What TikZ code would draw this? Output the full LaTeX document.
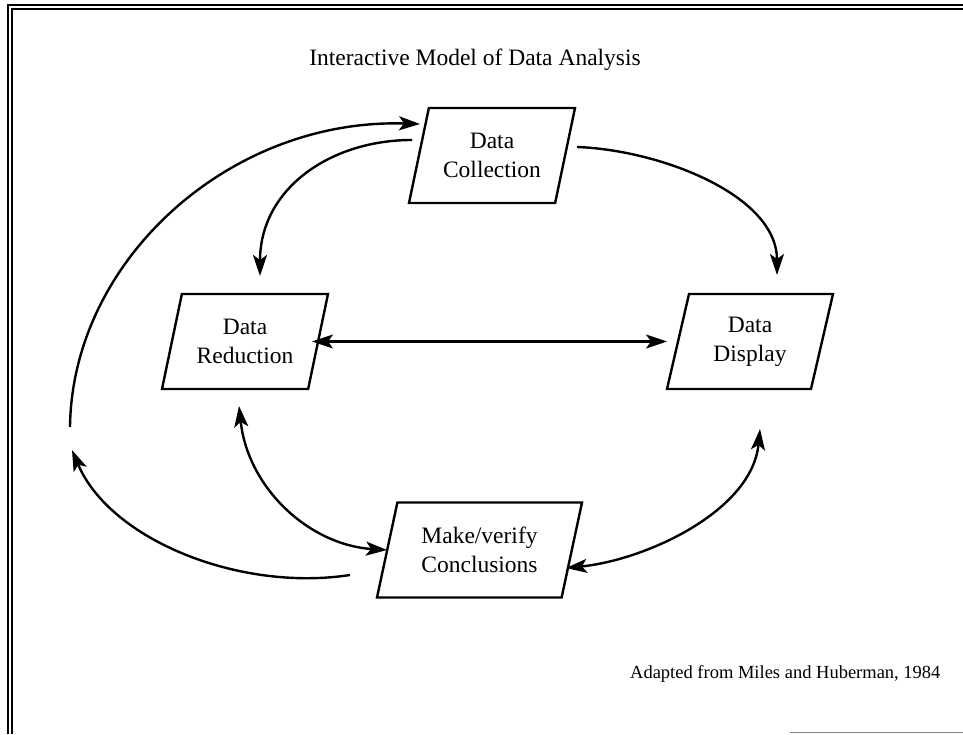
\documentclass[tikz,border=0pt]{standalone}
\usepackage{fontspec}
\setmainfont{Liberation Serif}
\usepackage{tikz}
\usetikzlibrary{positioning}
\usetikzlibrary{arrows.meta}
\usetikzlibrary{shapes.geometric}

\begin{document}
\begin{tikzpicture}[
            x = 1pt, y = 1pt, % one unit per pixel of the scan
            > = {Stealth[length=21pt, width=14pt, inset=5pt]}, % arrow head style
            line width = 2.4pt, % line style
            node distance = 505pt % distance between reduction and display
        ]

        \tikzstyle{box}=[
            draw,
            trapezium,
            trapezium left angle = 66,
            trapezium right angle = 114,
            trapezium stretches body,
            minimum width = 166pt,
            minimum height = 95pt,
            inner sep = 0pt,
            align = center,
            font = \fontsize{23.5}{29}\selectfont
        ]

        \useasboundingbox (0,0) rectangle (963,734);

	% FRAME OF THE SLIDE
        \draw[line width = 1.4pt] (963,729) -- (8,729) -- (8,0);
        \draw[line width = 1.4pt] (963,725) -- (12,725) -- (12,0);
        \draw[line width = 1pt, gray] (790,1.5) -- (963,1.5);

	% TITLE AND SOURCE
        \node (title) [anchor = base, font = \fontsize{23.5}{28}\selectfont] at (475,668) {Interactive Model of Data Analysis};
        \node (source) [anchor = base east, font = \fontsize{18.5}{22}\selectfont] at (945,56) {Adapted from Miles and Huberman, 1984};

	% THE FOUR STAGES
        \node[box] (col) at (492,578.5) {Data\\Collection};
        \node[box] (red) at (245,392.5) {Data\\Reduction};
        \node[box] (disp) [right of = red] {Data\\Display};
        \node[box, minimum width = 205pt] (conc) at (479.5,184) {Make/verify\\Conclusions};

        \coordinate (loopin) at (72,284);
        \coordinate (loopout) at (70,307);

	% FLOWS BETWEEN STAGES
        \draw[->] ([shift={(-80,15.5)}]col.center) .. controls +(-82,0) and +(0,87) .. ([shift={(15,65.5)}]red.center);
        \draw[->] ([shift={(85,8.5)}]col.center) .. controls +(83,-3) and +(0,80) .. ([shift={(27,66.5)}]disp.center);
        \draw[<->] ([xshift = 67pt]red.center) -- ([xshift = -83pt]disp.center);
        \draw[<->] ([shift={(-6,-64.5)}]red.center) .. controls +(9,-83) and +(-77,5) .. ([xshift = -92.5pt]conc.center);
        \draw[<->] ([shift={(10,-87.5)}]disp.center) .. controls +(-8,-82) and +(80,8) .. ([shift={(86.5,-18)}]conc.center);
        \draw[->] ([shift={(-129.5,-25)}]conc.center) .. controls +(-110,-17) and +(38,-90) .. (loopin);
        \draw[->] (loopout) .. controls +(2,167) and +(-190,6) .. ([shift={(-72,31.5)}]col.center);

\end{tikzpicture}
\end{document}
